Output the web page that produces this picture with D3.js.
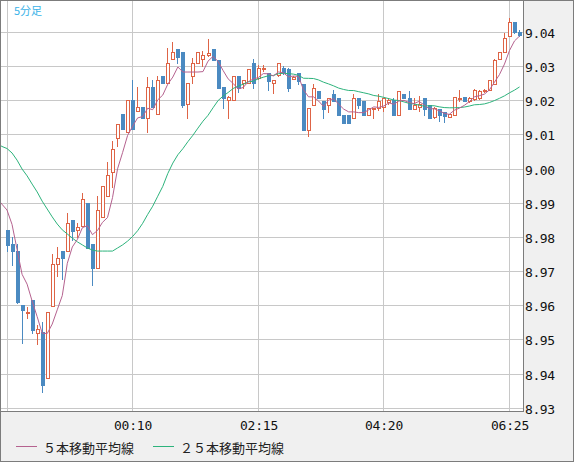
<!DOCTYPE html>
<html><head><meta charset="utf-8">
<script src="https://cdn.jsdelivr.net/npm/d3@7"></script>
<style>body{margin:0;background:#f0f0f0}svg{display:block}</style>
</head><body><svg id="c" width="574" height="462"></svg>
<script>
// ---- data (5-minute candles) ----
const opens = [8.9822, 8.9781, 8.9760, 8.9602, 8.9580, 8.9617, 8.9520, 8.9522, 8.9389, 8.9600,
 8.9721, 8.9760, 8.9760, 8.9851, 8.9822, 8.9832, 8.9902, 8.9780, 8.9709, 8.9860,
 8.9921, 8.9990, 9.0090, 9.0161, 9.0109, 9.0202, 9.0171, 9.0181, 9.0150, 9.0239,
 9.0160, 9.0273, 9.0251, 9.0322, 9.0352, 9.0342, 9.0190, 9.0271, 9.0310, 9.0322,
 9.0335, 9.0352, 9.0320, 9.0241, 9.0203, 9.0202, 9.0273, 9.0251, 9.0251, 9.0310,
 9.0266, 9.0293, 9.0280, 9.0251, 9.0276, 9.0295, 9.0292, 9.0264, 9.0280, 9.0249,
 9.0115, 9.0187, 9.0229, 9.0200, 9.0187, 9.0220, 9.0208, 9.0158, 9.0158, 9.0149,
 9.0208, 9.0198, 9.0158, 9.0176, 9.0178, 9.0180, 9.0196, 9.0202, 9.0158, 9.0220,
 9.0208, 9.0177, 9.0180, 9.0208, 9.0187, 9.0152, 9.0175, 9.0166, 9.0152, 9.0158,
 9.0205, 9.0210, 9.0198, 9.0205, 9.0208, 9.0227, 9.0231, 9.0250, 9.0321, 9.0342,
 9.0388, 9.0430, 9.0401];
const highs = [8.9822, 8.9802, 8.9780, 8.9602, 8.9596, 8.9617, 8.9544, 8.9553, 8.9581, 8.9752,
 8.9772, 8.9760, 8.9872, 8.9851, 8.9841, 8.9931, 8.9902, 8.9780, 8.9921, 8.9950,
 9.0021, 9.0082, 9.0131, 9.0161, 9.0202, 9.0261, 9.0241, 9.0181, 9.0269, 9.0259,
 9.0271, 9.0273, 9.0354, 9.0373, 9.0352, 9.0342, 9.0251, 9.0325, 9.0342, 9.0345,
 9.0381, 9.0352, 9.0320, 9.0241, 9.0214, 9.0273, 9.0273, 9.0261, 9.0293, 9.0323,
 9.0305, 9.0303, 9.0280, 9.0261, 9.0310, 9.0300, 9.0295, 9.0272, 9.0280, 9.0249,
 9.0178, 9.0249, 9.0229, 9.0200, 9.0208, 9.0231, 9.0208, 9.0158, 9.0158, 9.0220,
 9.0208, 9.0198, 9.0178, 9.0178, 9.0220, 9.0208, 9.0208, 9.0208, 9.0227, 9.0220,
 9.0227, 9.0208, 9.0214, 9.0208, 9.0187, 9.0182, 9.0175, 9.0166, 9.0160, 9.0210,
 9.0232, 9.0210, 9.0212, 9.0234, 9.0232, 9.0233, 9.0260, 9.0322, 9.0343, 9.0398,
 9.0442, 9.0430, 9.0408];
const lows = [8.9759, 8.9720, 8.9608, 8.9490, 8.9563, 8.9519, 8.9489, 8.9348, 8.9389, 8.9600,
 8.9688, 8.9679, 8.9760, 8.9793, 8.9802, 8.9832, 8.9768, 8.9660, 8.9709, 8.9860,
 8.9921, 8.9948, 9.0067, 9.0117, 9.0109, 9.0117, 9.0171, 9.0150, 9.0109, 9.0181,
 9.0160, 9.0251, 9.0251, 9.0322, 9.0310, 9.0180, 9.0148, 9.0251, 9.0310, 9.0300,
 9.0330, 9.0320, 9.0238, 9.0179, 9.0150, 9.0202, 9.0226, 9.0238, 9.0251, 9.0236,
 9.0262, 9.0287, 9.0231, 9.0222, 9.0272, 9.0277, 9.0227, 9.0262, 9.0250, 9.0115,
 9.0098, 9.0187, 9.0208, 9.0149, 9.0168, 9.0198, 9.0158, 9.0136, 9.0136, 9.0149,
 9.0178, 9.0158, 9.0158, 9.0149, 9.0172, 9.0170, 9.0190, 9.0158, 9.0158, 9.0208,
 9.0177, 9.0177, 9.0170, 9.0158, 9.0149, 9.0150, 9.0140, 9.0138, 9.0152, 9.0158,
 9.0200, 9.0198, 9.0195, 9.0202, 9.0205, 9.0226, 9.0231, 9.0250, 9.0321, 9.0342,
 9.0388, 9.0398, 9.0389];
const closes = [8.9778, 8.9759, 8.9610, 8.9587, 8.9582, 8.9530, 8.9532, 8.9368, 8.9581, 8.9721,
 8.9739, 8.9739, 8.9841, 8.9820, 8.9830, 8.9912, 8.9768, 8.9710, 8.9880, 8.9950,
 8.9982, 9.0060, 9.0131, 9.0117, 9.0202, 9.0117, 9.0181, 9.0150, 9.0239, 9.0181,
 9.0261, 9.0251, 9.0310, 9.0342, 9.0329, 9.0187, 9.0251, 9.0310, 9.0342, 9.0335,
 9.0340, 9.0320, 9.0238, 9.0209, 9.0212, 9.0273, 9.0238, 9.0261, 9.0293, 9.0251,
 9.0295, 9.0296, 9.0258, 9.0261, 9.0310, 9.0283, 9.0237, 9.0269, 9.0257, 9.0115,
 9.0178, 9.0237, 9.0208, 9.0177, 9.0208, 9.0198, 9.0158, 9.0136, 9.0136, 9.0208,
 9.0187, 9.0158, 9.0178, 9.0178, 9.0200, 9.0208, 9.0203, 9.0158, 9.0227, 9.0208,
 9.0177, 9.0187, 9.0190, 9.0177, 9.0150, 9.0178, 9.0157, 9.0154, 9.0160, 9.0210,
 9.0209, 9.0198, 9.0208, 9.0230, 9.0228, 9.0231, 9.0260, 9.0320, 9.0342, 9.0382,
 9.0430, 9.0400, 9.0391];
const ma5Lead = [8.9915, 8.9897, 8.9880, 8.9838, 8.9765, 8.9692];           // bars -2 .. 3
const ma25Lead = [9.0075, 9.0066, 9.0060, 9.0047, 9.0026, 9.0000, 8.9980, 8.9956, 8.9933, 8.9906,
 8.9883, 8.9860, 8.9839, 8.9822, 8.9810, 8.9798, 8.9787, 8.9778, 8.9769, 8.9763,
 8.9760, 8.9760, 8.9760, 8.9760, 8.9769, 8.9778];                             // bars -2 .. 23
const priceTicks = [8.93, 8.94, 8.95, 8.96, 8.97, 8.98, 8.99, 9.00, 9.01, 9.02, 9.03, 9.04];
const gridIndex = [0, 25, 50, 75, 100];
const timeTickIndex = [25, 50, 75, 100];
const timeTickLabels = ["00:10", "02:15", "04:20", "06:25"];
const titleText = "5分足";
const legendLabels = ["５本移動平均線", "２５本移動平均線"];

// ---- drawing ----
const svg = d3.select("#c");
const P = {l: 1, t: 1, r: 523, b: 411};
const x = d3.scaleLinear().domain([0, 100]).range([7, 509.5]);
const y = d3.scaleLinear().domain([8.93, 9.04]).range([408.3, 32.3]);
const C = {red: "#de6446", blue: "#4b8ac1", ma5: "#b5628f", ma25: "#2db37c", grid: "#c8c8c8", frame: "#7c7c7c"};
const mono = "'DejaVu Sans Mono', monospace";
const cjk = "'Noto Sans CJK JP', sans-serif";

svg.append("rect").attr("x", 0).attr("y", 0).attr("width", 574).attr("height", 462).attr("fill", "#f0f0f0");
svg.append("rect").attr("x", P.l).attr("y", P.t).attr("width", P.r - P.l).attr("height", P.b - P.t).attr("fill", "#fff");

svg.append("defs").append("clipPath").attr("id", "clip")
  .append("rect").attr("x", P.l).attr("y", P.t).attr("width", P.r - P.l).attr("height", P.b - P.t);

const g = svg.append("g").attr("clip-path", "url(#clip)");
// grid
g.append("g").selectAll("line").data(priceTicks).join("line")
  .attr("x1", P.l).attr("x2", P.r)
  .attr("y1", d => Math.floor(y(d)) + 0.5).attr("y2", d => Math.floor(y(d)) + 0.5)
  .attr("stroke", C.grid).attr("shape-rendering", "crispEdges");
g.append("g").selectAll("line").data(gridIndex).join("line")
  .attr("y1", P.t).attr("y2", P.b)
  .attr("x1", d => Math.floor(x(d)) + 0.5).attr("x2", d => Math.floor(x(d)) + 0.5)
  .attr("stroke", C.grid).attr("shape-rendering", "crispEdges");

// candles
const bars = closes.map((c, i) => ({i, o: opens[i], h: highs[i], l: lows[i], c}));
const cg = g.append("g").attr("shape-rendering", "crispEdges");
const cand = cg.selectAll("g").data(bars).join("g");
cand.append("line")
  .attr("x1", d => Math.floor(x(d.i)) + 0.5).attr("x2", d => Math.floor(x(d.i)) + 0.5)
  .attr("y1", d => Math.round(y(d.h))).attr("y2", d => Math.round(y(d.l)) + 1)
  .attr("stroke", d => d.c >= d.o ? C.red : C.blue);
cand.filter(d => d.c < d.o).append("rect")
  .attr("x", d => Math.floor(x(d.i)) - 1).attr("width", 4)
  .attr("y", d => Math.round(y(d.o)))
  .attr("height", d => Math.max(1, Math.round(y(d.c)) - Math.round(y(d.o)) + 1))
  .attr("fill", C.blue);
cand.filter(d => d.c >= d.o).append("rect")
  .attr("x", d => Math.floor(x(d.i)) - 0.5).attr("width", 3)
  .attr("y", d => Math.round(y(d.c)) + 0.5)
  .attr("height", d => Math.max(1, Math.round(y(d.o)) - Math.round(y(d.c))))
  .attr("fill", "#fff").attr("stroke", C.red);

// moving averages
function movingAvg(n, lead) {
  const out = [];
  for (let i = -2; i < closes.length; i++) {
    const v = (i - n + 1 < 0) ? lead[i + 2] : d3.mean(closes.slice(i - n + 1, i + 1));
    out.push({i, v});
  }
  return out;
}
const line = d3.line().x(d => x(d.i)).y(d => y(d.v));
g.append("path").datum(movingAvg(25, ma25Lead)).attr("d", line)
  .attr("fill", "none").attr("stroke", C.ma25).attr("stroke-width", 1);
g.append("path").datum(movingAvg(5, ma5Lead)).attr("d", line)
  .attr("fill", "none").attr("stroke", C.ma5).attr("stroke-width", 1);

// frame
const fr = svg.append("g").attr("stroke", C.frame).attr("shape-rendering", "crispEdges").attr("fill", "none");
fr.append("rect").attr("x", 0.5).attr("y", 0.5).attr("width", 573).attr("height", 461);
fr.append("line").attr("x1", P.r + 0.5).attr("x2", P.r + 0.5).attr("y1", 0).attr("y2", P.b + 1);
fr.append("line").attr("x1", 0).attr("x2", P.r + 1).attr("y1", P.b + 0.5).attr("y2", P.b + 0.5);

// price labels
svg.append("g").selectAll("text").data(priceTicks).join("text")
  .attr("x", 525).attr("y", d => Math.floor(y(d)) + 5.5)
  .attr("font-family", mono).attr("font-size", 13).attr("letter-spacing", "-0.4")
  .attr("fill", "#111").text(d => d3.format(".2f")(d));

// time labels
svg.append("g").selectAll("text").data(timeTickIndex).join("text")
  .attr("x", d => Math.floor(x(d)) + 1).attr("y", 430)
  .attr("text-anchor", "middle")
  .attr("font-family", mono).attr("font-size", 13).attr("letter-spacing", "-0.2")
  .attr("fill", "#111").text((d, k) => timeTickLabels[k]);

// title
svg.append("text").attr("x", 14).attr("y", 15).attr("font-family", cjk).attr("font-size", 11)
  .attr("fill", "#3ab3e8").text(titleText);

// legend
const lg = svg.append("g");
const legendItems = [{label: legendLabels[0], color: C.ma5, x0: 16}, {label: legendLabels[1], color: C.ma25, x0: 153}];
legendItems.forEach(it => {
  lg.append("line").attr("x1", it.x0).attr("x2", it.x0 + 21).attr("y1", 446.5).attr("y2", 446.5)
    .attr("stroke", it.color).attr("shape-rendering", "crispEdges");
  lg.append("text").attr("x", it.x0 + 27).attr("y", 452.5).attr("font-family", cjk).attr("font-size", 13)
    .attr("fill", "#222").text(it.label);
});
</script></body></html>
